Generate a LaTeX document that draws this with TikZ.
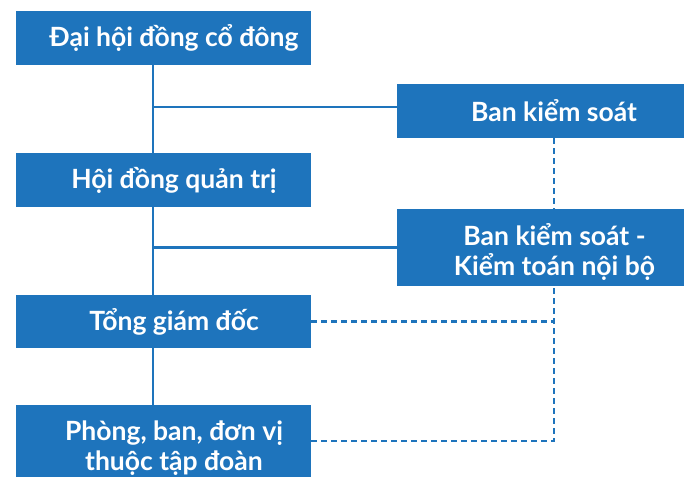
\documentclass[tikz,border=0pt]{standalone}
\usepackage{fontspec}
\setmainfont{Lato}
\usepackage{tikz}
\usepackage{xcolor}
\definecolor{orgblue}{HTML}{1E74BC}

\begin{document}
\begin{tikzpicture}[x=1pt, y=-1pt,
    orgbox/.style={fill=orgblue, inner sep=0pt},
    orgtext/.style={text=white, font=\fontsize{26.5}{30}\selectfont\bfseries, align=center, inner sep=0pt},
    solidlink/.style={orgblue, line width=2.5pt},
    dashlink/.style={orgblue, line width=2.5pt, dash pattern=on 6pt off 4pt}]
            \useasboundingbox (0,0) rectangle (687,477);
            \coordinate (spine) at (153,0);
            \coordinate (ctrl) at (554,0);
            \node[orgbox, minimum width=295pt, minimum height=54pt,
                  label={[orgtext, xshift=10.5pt]center:Đại hội đồng cổ đông}] (dhcd) at (163.5,38) {};
            \node[orgbox, minimum width=287pt, minimum height=54pt,
                  label={[orgtext, xshift=13.5pt]center:Ban kiểm soát}] (bks) at (540.5,111) {};
            \node[orgbox, minimum width=295pt, minimum height=54pt,
                  label={[orgtext, xshift=10.5pt]center:Hội đồng quản trị}] (hdqt) at (163.5,180) {};
            \node[orgbox, minimum width=287pt, minimum height=77pt,
                  label={[orgtext, xshift=14pt, yshift=-4pt]center:{Ban kiểm soát -\\Kiểm toán nội bộ}}] (ktnb) at (540.5,247.5) {};
            \node[orgbox, minimum width=295pt, minimum height=53pt,
                  label={[orgtext, xshift=10.5pt]center:Tổng giám đốc}] (tgd) at (163.5,321.5) {};
            \node[orgbox, minimum width=295pt, minimum height=72pt,
                  label={[orgtext, xshift=10.5pt, yshift=-7pt]center:{Phòng, ban, đơn vị\\thuộc tập đoàn}}] (pb) at (163.5,441) {};
            \draw[solidlink] (dhcd.south -| spine) -- (hdqt.north -| spine);
            \draw[solidlink] (hdqt.south -| spine) -- (tgd.north -| spine);
            \draw[solidlink] (tgd.south -| spine) -- (pb.north -| spine);
            \draw[solidlink] (spine |- bks.west) ++(0,-4) -- ([yshift=4pt]bks.west);
            \draw[solidlink] (spine |- ktnb.west) -- (ktnb.west);
            \draw[dashlink] (bks.south -| ctrl) -- (ktnb.north -| ctrl);
            \draw[dashlink] (tgd.east) -- (tgd.east -| ctrl);
            \draw[dashlink] (pb.east) -- (pb.east -| ctrl) -- (ktnb.south -| ctrl);
\end{tikzpicture}
\end{document}
